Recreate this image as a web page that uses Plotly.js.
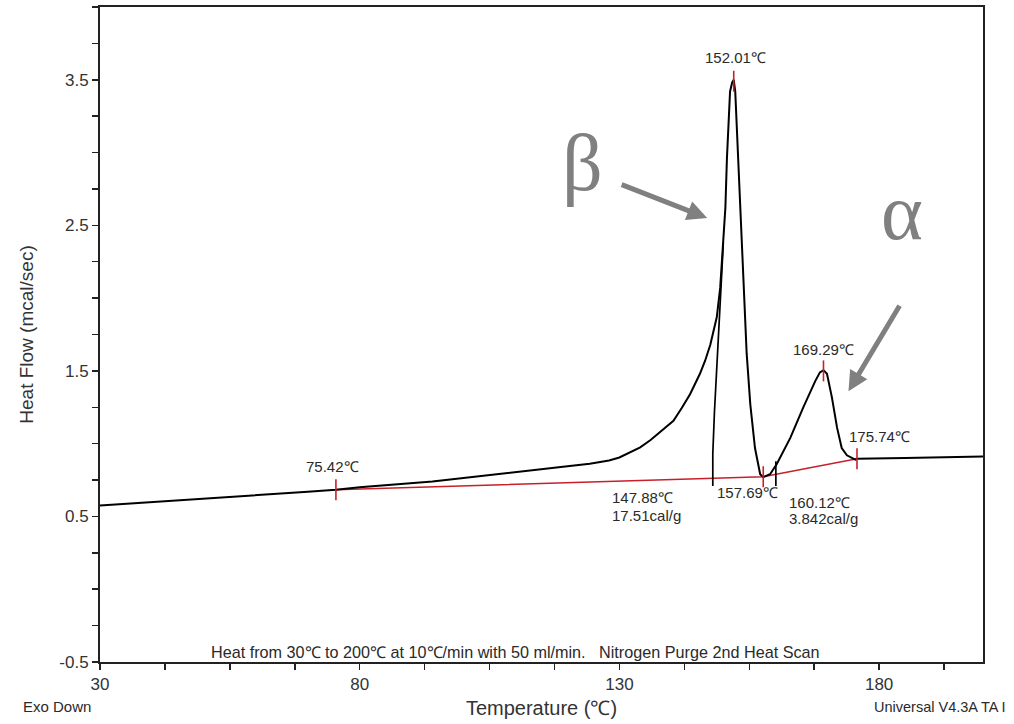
<!DOCTYPE html>
<html>
<head>
<meta charset="utf-8">
<script src="https://cdn.plot.ly/plotly-3.0.1.min.js"></script>
<style>html,body{margin:0;padding:0;background:#fff;}#chart{width:1014px;height:724px;}</style>
</head>
<body>
<div id="chart"></div>
<script>
// DSC heat-flow curve (temperature in ℃, heat flow in mcal/sec)
const temperature = [30, 40, 51.7, 60, 70, 75.42, 80, 94, 107, 116.6, 120, 124.3, 128, 130, 132, 134, 136, 137, 138, 139.2, 140.4, 142, 143.6, 145.5, 146.5, 147.5, 148.75, 149.4, 150.0, 150.4, 150.7, 151.0, 151.3, 151.7, 152.01, 152.3, 152.6, 153.1, 153.4, 153.9, 154.5, 155.2, 156.1, 157.1, 157.69, 159.0, 160.3, 162.9, 165.4, 167.7, 168.6, 169.29, 169.96, 170.9, 171.9, 172.8, 173.8, 175.4, 175.74, 185, 200];
const heatFlow = [0.575, 0.60, 0.627, 0.648, 0.670, 0.683, 0.70, 0.74, 0.79, 0.83, 0.845, 0.862, 0.885, 0.905, 0.94, 0.975, 1.025, 1.055, 1.085, 1.12, 1.157, 1.245, 1.34, 1.48, 1.57, 1.68, 1.87, 2.07, 2.38, 2.62, 2.96, 3.24, 3.42, 3.48, 3.50, 3.42, 3.17, 2.83, 2.49, 2.07, 1.62, 1.27, 0.97, 0.79, 0.77, 0.79, 0.86, 1.04, 1.25, 1.43, 1.49, 1.505, 1.48, 1.32, 1.11, 0.97, 0.92, 0.89, 0.896, 0.902, 0.912];

// drop lines drawn by the analysis software
const drop1Temp = [147.98, 147.98, 148.3, 148.75, 149.1, 149.4, 149.7, 150.0];
const drop1Heat = [0.71, 0.93, 1.22, 1.50, 1.75, 1.96, 2.17, 2.38];
const drop2Temp = [160.12, 160.12];
const drop2Heat = [0.71, 0.88];

// integration baselines (red)
const baseTemp = [75.42, 157.69, 175.74];
const baseHeat = [0.683, 0.773, 0.896];

// analysis markers (red)
const markTemp = [75.42, 152.01, 157.69, 169.29, 175.74];
const markHeat = [0.683, 3.49, 0.773, 1.50, 0.896];

// tick labels
const xTicks = [30, 80, 130, 180];
const yTicks = [-0.5, 0.5, 1.5, 2.5, 3.5];

const RED = '#c8202a';
const TXT = '#2a2a2a';
const FONT = 'Liberation Sans, Arial, sans-serif';

const traces = [
  {x: baseTemp, y: baseHeat, mode: 'lines', line: {color: RED, width: 1.6}, hoverinfo: 'skip'},
  {x: temperature, y: heatFlow, mode: 'lines', line: {color: '#000', width: 2}, hoverinfo: 'skip'},
  {x: drop1Temp, y: drop1Heat, mode: 'lines', line: {color: '#000', width: 1.7}, hoverinfo: 'skip'},
  {x: drop2Temp, y: drop2Heat, mode: 'lines', line: {color: '#000', width: 1.7}, hoverinfo: 'skip'},
  {x: markTemp, y: markHeat, mode: 'markers', marker: {symbol: 'line-ns', size: 15, line: {color: RED, width: 1.6}}, hoverinfo: 'skip'}
];

function lbl(text, x, y, anchor) {
  return {text: text, x: x, y: y, xref: 'x', yref: 'y', showarrow: false,
          xanchor: anchor || 'center', yanchor: 'middle',
          font: {family: FONT, size: 15, color: TXT}};
}

const annotations = [
  lbl('75.42℃', 74.8, 0.841),
  lbl('152.01℃', 152.3, 3.65),
  lbl('147.88℃', 128.2, 0.628, 'left'),
  lbl('17.51cal/g', 128.2, 0.505, 'left'),
  lbl('157.69℃', 148.4, 0.663, 'left'),
  lbl('160.12℃', 162.3, 0.594, 'left'),
  lbl('3.842cal/g', 162.3, 0.484, 'left'),
  lbl('169.29℃', 169.3, 1.65),
  lbl('175.74℃', 180.1, 1.05),
  {text: 'Heat from 30℃ to 200℃ at 10℃/min with 50 ml/min.&nbsp;&nbsp;&nbsp;Nitrogen Purge 2nd Heat Scan',
   xref: 'paper', yref: 'paper', x: 0.47, y: 0.015, xanchor: 'center', yanchor: 'middle', showarrow: false,
   font: {family: FONT, size: 16.2, color: TXT}},
  {text: 'Exo Down', xref: 'paper', yref: 'paper', x: -0.089, y: -0.068, xanchor: 'left', yanchor: 'middle',
   showarrow: false, font: {family: FONT, size: 15, color: TXT}},
  {text: 'Universal V4.3A TA I', xref: 'paper', yref: 'paper', x: 0.8746, y: -0.068, xanchor: 'left', yanchor: 'middle',
   showarrow: false, font: {family: FONT, size: 14.5, color: TXT}},
  {text: 'β', xref: 'paper', yref: 'paper', x: (583 - 100.6) / 882, y: (661.7 - 163) / 654.2, xanchor: 'center', yanchor: 'middle',
   showarrow: false, font: {family: 'Liberation Serif, Times New Roman, serif', size: 80, color: '#808080'}},
  {text: 'α', xref: 'paper', yref: 'paper', x: (902 - 100.6) / 882, y: (661.7 - 212) / 654.2, xanchor: 'center', yanchor: 'middle',
   showarrow: false, font: {family: 'Liberation Serif, Times New Roman, serif', size: 80, color: '#808080'}},
  {text: '', x: 146.9, y: 2.55, xref: 'x', yref: 'y', ax: -87, ay: -34, showarrow: true,
   arrowhead: 2, arrowsize: 0.8, arrowwidth: 5, arrowcolor: '#808080'},
  {text: '', x: 174.1, y: 1.36, xref: 'x', yref: 'y', ax: 52, ay: -87, showarrow: true,
   arrowhead: 2, arrowsize: 0.8, arrowwidth: 5, arrowcolor: '#808080'}
];

const axisCommon = {
  showgrid: false, zeroline: false, showline: true, linecolor: '#222', linewidth: 2, mirror: true,
  ticks: 'outside', ticklen: 6, tickwidth: 1.5, tickcolor: '#222',
  tickfont: {family: FONT, size: 17, color: '#333'}
};

const layout = {
  width: 1014, height: 724,
  margin: {l: 100, r: 31, t: 7, b: 62},
  paper_bgcolor: '#fff', plot_bgcolor: '#fff',
  showlegend: false,
  xaxis: Object.assign({}, axisCommon, {
    range: [30, 200], tickvals: xTicks, ticktext: xTicks.map(String),
    minor: {tick0: 30, dtick: 12.5, ticks: 'outside', ticklen: 6, tickwidth: 1.5, tickcolor: '#222'},
    title: {text: 'Temperature (℃)', font: {family: FONT, size: 20, color: '#333'}, standoff: 8}
  }),
  yaxis: Object.assign({}, axisCommon, {
    range: [-0.5, 4.0], tickvals: yTicks, ticktext: yTicks.map(String),
    minor: {tick0: -0.5, dtick: 0.25, ticks: 'outside', ticklen: 6, tickwidth: 1.5, tickcolor: '#222'},
    title: {text: 'Heat Flow (mcal/sec)', font: {family: FONT, size: 19, color: '#333'}, standoff: 21}
  }),
  annotations: annotations
};

Plotly.newPlot('chart', traces, layout, {staticPlot: true, displayModeBar: false});
</script>
</body>
</html>
